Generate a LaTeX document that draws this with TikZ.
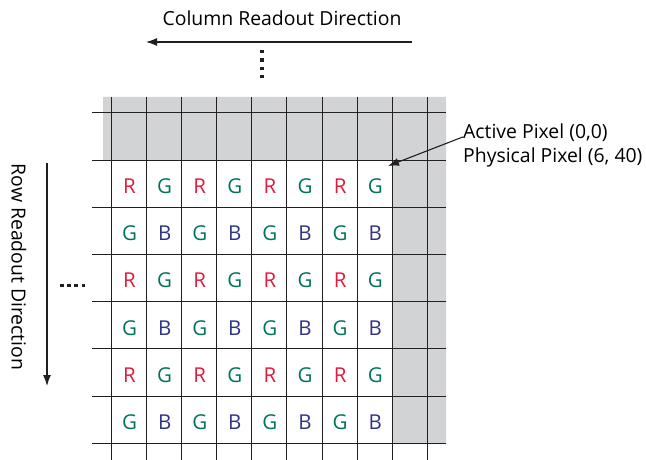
\documentclass[tikz,border=0pt]{standalone}
\usepackage{fontspec}
\setmainfont{Open Sans}
\usetikzlibrary{arrows.meta}
\definecolor{pixred}{HTML}{E31B3B}
\definecolor{pixgreen}{HTML}{00735B}
\definecolor{pixblue}{HTML}{2E3587}
\definecolor{darkpix}{HTML}{D1D3D4}
\definecolor{gridline}{HTML}{231F20}
\tikzset{
  gridln/.style={draw=gridline, line width=1.2pt},
  pixlbl/.style={font=\fontsize{20.5}{24}\selectfont, inner sep=0pt},
  capt/.style={font=\fontsize{19.4}{24}\selectfont, inner sep=0pt},
  readout/.style={draw=gridline, line width=1.1pt, -{Latex[length=11pt,width=8pt]}}
}
\begin{document}
\begin{tikzpicture}[x=1pt,y=-1pt]
\useasboundingbox (0,0) rectangle (646,460);
% dark pixels round the active array
\fill[darkpix] (103,97)--(446,97)--(446,444)--(393,444)--(393,160)--(103,160)--cycle;
% grid
\foreach \gx in {111.5,146.5,181.5,216.5,251.5,286.5,322.5,357.5,392.5,427.5}
  \draw[gridln] (\gx,97)--(\gx,460);
\foreach \gy in {112.5,160.5,207.5,254.5,301.5,348.5,396.5,443.5}
  \draw[gridln] (92,\gy)--(446,\gy);
% bayer pattern
\foreach \j in {0,...,5} \foreach \i in {0,...,7} {
  \pgfmathtruncatemacro\pxk{mod(\i,2)+2*mod(\j,2)}
  \ifcase\pxk \def\pxl{R}\def\pxc{pixred}\or \def\pxl{G}\def\pxc{pixgreen}\or
    \def\pxl{G}\def\pxc{pixgreen}\or \def\pxl{B}\def\pxc{pixblue}\fi
  \node[pixlbl, text=\pxc] (px-\i-\j) at (129.55+35.1*\i,186+47.27*\j) {\pxl};
}
% column readout
\node[capt] (colcap) at (282,18) {Column Readout Direction};
\coordinate (colfrom) at (412,42);
\coordinate (colto) at (146,42);
\draw[readout] (colfrom)--(colto);
\foreach \d in {0,...,3} \fill[gridline] (260,50+8.3*\d) rectangle ++(3.5,3.5);
% row readout
\node[capt, rotate=-90] (rowcap) at (19,267) {Row Readout Direction};
\coordinate (rowfrom) at (47,163);
\coordinate (rowto) at (47,386);
\draw[readout] (rowfrom)--(rowto);
\foreach \d in {0,...,3} \fill[gridline] (60+7.2*\d,283.5) rectangle ++(3.5,3.5);
% first active pixel
\node[capt, align=left, anchor=north west] (actlbl) at (463,124) {Active Pixel (0,0)\\Physical Pixel (6, 40)};
\coordinate (actpx) at (388,166);
\draw[readout] ([yshift=9pt]actlbl.west)--(actpx);
\end{tikzpicture}
\end{document}
